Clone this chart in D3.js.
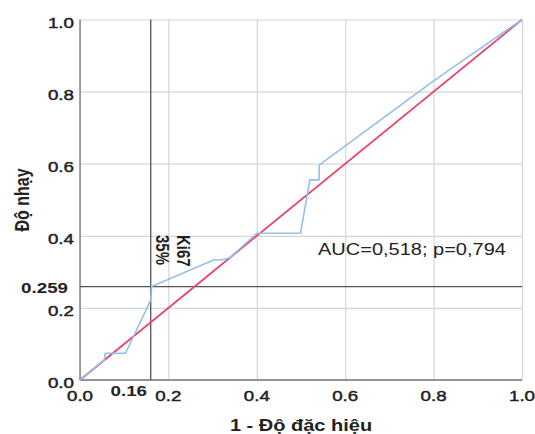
<!DOCTYPE html>
<html>
<head>
<meta charset="utf-8">
<script src="https://cdn.jsdelivr.net/npm/d3@7"></script>
<style>
  body { margin: 0; background: #fff; }
  text { font-family: "Liberation Sans", Arial, sans-serif; fill: #222; }
</style>
</head>
<body>
<script>
// ROC curve data (1 - specificity, sensitivity)
var fpr = [0, 0.055, 0.057, 0.103, 0.16, 0.162, 0.302, 0.32, 0.34, 0.4, 0.499, 0.52, 0.541, 0.541, 0.8, 1];
var tpr = [0, 0.055, 0.074, 0.074, 0.222, 0.259, 0.333, 0.333, 0.34, 0.407, 0.407, 0.555, 0.555, 0.596, 0.83, 1];
var refLine = [0, 1];
var ticks = [0, 0.2, 0.4, 0.6, 0.8, 1.0];
var cutX = 0.16, cutY = 0.259;
var cutLabel = ["Ki67", "35%"];
var aucText = "AUC=0,518; p=0,794";

var WIDTH = 535, HEIGHT = 434;
var SX = 1.25; // the original picture is stretched sideways

var x = d3.scaleLinear().domain([0, 1]).range([80, 522]);
var y = d3.scaleLinear().domain([0, 1]).range([380, 19.5]);
var fmt = d3.format(".1f");

var svg = d3.select("body").append("svg")
    .attr("width", WIDTH)
    .attr("height", HEIGHT);

// grid
svg.append("g")
    .attr("transform", "translate(0," + y(0) + ")")
    .call(d3.axisBottom(x).tickValues(ticks).tickSize(-(y(0) - y(1))).tickFormat(""))
    .call(function(g) {
      g.select(".domain").remove();
      g.selectAll("line").attr("stroke", "#d6d6d6").attr("stroke-width", 1.2);
    });
svg.append("g")
    .attr("transform", "translate(" + x(0) + ",0)")
    .call(d3.axisLeft(y).tickValues(ticks).tickSize(-(x(1) - x(0))).tickFormat(""))
    .call(function(g) {
      g.select(".domain").remove();
      g.selectAll("line").attr("stroke", "#d6d6d6").attr("stroke-width", 1.2);
    });

// axis lines
svg.append("line").attr("x1", x(0)).attr("x2", x(0)).attr("y1", y(0)).attr("y2", y(1))
    .attr("stroke", "#777").attr("stroke-width", 1.3);
svg.append("line").attr("x1", x(0)).attr("x2", x(1)).attr("y1", y(0)).attr("y2", y(0))
    .attr("stroke", "#777").attr("stroke-width", 1.3);

// cutoff lines
svg.append("line").attr("x1", x(cutX)).attr("x2", x(cutX)).attr("y1", y(0)).attr("y2", y(1))
    .attr("stroke", "#555").attr("stroke-width", 1.3);
svg.append("line").attr("x1", x(0)).attr("x2", x(1)).attr("y1", y(cutY)).attr("y2", y(cutY))
    .attr("stroke", "#555").attr("stroke-width", 1.3);

// reference diagonal
svg.append("path")
    .datum(refLine)
    .attr("d", d3.line().x(function(d) { return x(d); }).y(function(d) { return y(d); }))
    .attr("fill", "none")
    .attr("stroke", "#e8416b")
    .attr("stroke-width", 1.8);

// ROC curve
svg.append("path")
    .datum(d3.range(fpr.length))
    .attr("d", d3.line().x(function(i) { return x(fpr[i]); }).y(function(i) { return y(tpr[i]); }))
    .attr("fill", "none")
    .attr("stroke", "#94bfea")
    .attr("stroke-width", 1.6);

function label(tx, ty, str, opts) {
  opts = opts || {};
  var t = svg.append("text")
      .attr("transform", "translate(" + tx + "," + ty + ") scale(" + SX + ",1)" + (opts.rotate ? " rotate(" + opts.rotate + ")" : ""))
      .attr("text-anchor", opts.anchor || "start")
      .style("font-size", (opts.size || 15) + "px")
      .style("font-weight", opts.bold ? "bold" : "normal")
      .text(str);
  if (opts.heavy) t.style("stroke", "#222").style("stroke-width", 0.45);
  return t;
}

// tick labels
ticks.forEach(function(v) {
  label(x(v), 400.5, fmt(v), { anchor: "middle", heavy: true });
  label(74, y(v) + 8, fmt(v), { anchor: "end", heavy: true });
});
label(147, 395.5, String(cutX), { anchor: "end", bold: true });
label(68, y(cutY) + 6, String(cutY), { anchor: "end", bold: true });

// titles
label((x(0) + x(1)) / 2, 431, "1 - Độ đặc hiệu", { anchor: "middle", bold: true, size: 16 });
label(29, 200, "Độ nhạy", { anchor: "middle", bold: true, size: 16, rotate: -90 });

// cutoff annotation
label(177, 235, cutLabel[0], { bold: true, rotate: 90 });
label(155.5, 235, cutLabel[1], { bold: true, rotate: 90 });

label(318, 255, aucText, { size: 16 });
</script>
</body>
</html>
